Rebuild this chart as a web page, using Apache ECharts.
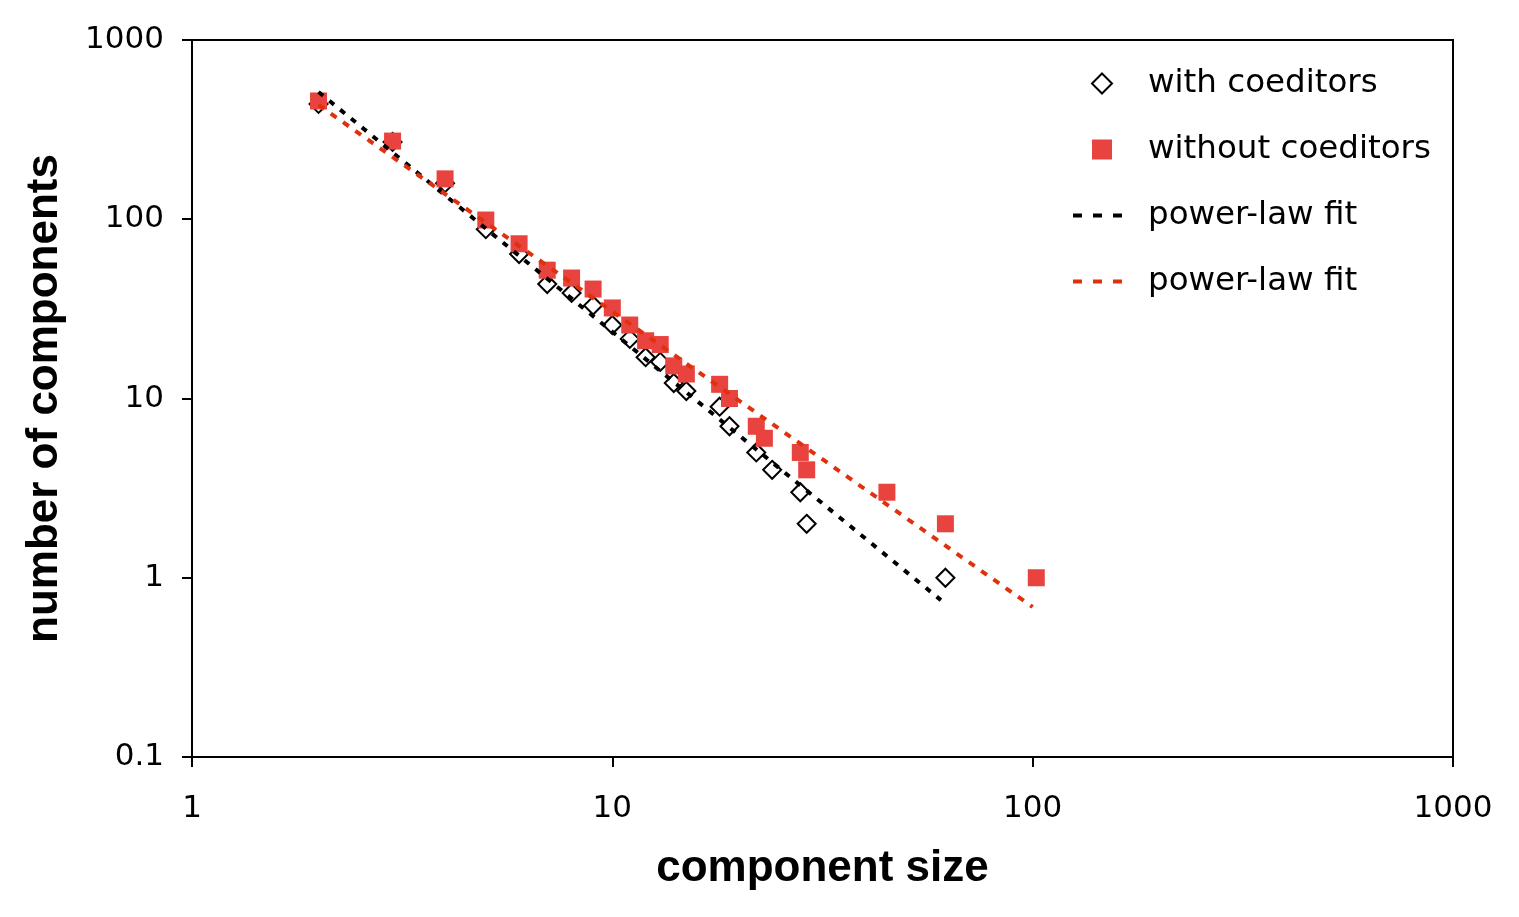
<!DOCTYPE html>
<html>
<head>
  <meta charset="utf-8">
  <title>component size distribution</title>
  <script src="https://cdn.jsdelivr.net/npm/echarts@6/dist/echarts.min.js"></script>
  <style>
    html, body { margin: 0; padding: 0; background: #fff; }
  </style>
</head>
<body>
  <div id="main" style="width: 1519px;height:917px;"></div>

  <script>
    // with coeditors (diamonds)
    const withSize  = [2, 3, 4, 5, 6, 7, 8, 9, 10, 11, 12, 13, 14, 15, 18, 19, 22, 24, 28, 29, 62];
    const withCount = [440, 270, 159, 88, 64, 43.5, 38.8, 33, 25.7, 21.5, 17, 16, 12.2, 11, 9, 7, 5, 4, 3, 2, 1];

    // without coeditors (squares)
    const withoutSize  = [2, 3, 4, 5, 6, 7, 8, 9, 10, 11, 12, 13, 14, 15, 18, 19, 22, 23, 28, 29, 45, 62, 102];
    const withoutCount = [457, 273, 168, 99, 73, 52, 47, 40.8, 32, 25.7, 21, 20, 15.2, 13.7, 12, 10, 7, 6, 5, 4, 3, 2, 1];

    // fitted lines, end points
    const fitBlackX = [2, 60.5];
    const fitBlackY = [513, 0.75];
    const fitRedX = [2, 100];
    const fitRedY = [434, 0.687];

    const xTicks = [1, 10, 100, 1000];
    const yTicks = [0.1, 1, 10, 100, 1000];

    const pairs = (xs, ys) => xs.map((x, i) => [x, ys[i]]);
    const tickFont = { fontFamily: 'DejaVu Sans', fontSize: 31, color: '#000' };
    const titleFont = { fontFamily: 'Liberation Sans', fontWeight: 'bold', fontSize: 44, color: '#000' };
    const fmt = v => String(+(+v).toPrecision(3));

    const RED_MARK = '#E8433F';
    const RED_LINE = '#E0300E';
    const legendDash = { width: 4, type: [9, 11] };

    const chart = echarts.init(document.getElementById('main'));
    const option = {
      animation: false,
      backgroundColor: '#fff',
      grid: {
        left: 192, top: 40, right: 66, bottom: 160,
        show: true, borderColor: '#000', borderWidth: 2
      },
      legend: {
        orient: 'vertical',
        left: 1066,
        top: 62,
        itemWidth: 58,
        itemHeight: 20,
        itemGap: 33,
        symbolKeepAspect: true,
        lineStyle: legendDash,
        textStyle: { fontFamily: 'DejaVu Sans', fontSize: 32.5, color: '#000', padding: [0, 0, 0, 12] },
        data: [
          { name: 'with coeditors', icon: 'path://M0,-1L1,0L0,1L-1,0Z',
            itemStyle: { color: '#fff', borderColor: '#000', borderWidth: 2 } },
          { name: 'without coeditors', icon: 'path://M0,0H1V1H0Z' },
          { name: 'power-law fit', lineStyle: legendDash },
          { name: 'power-law fit ', lineStyle: legendDash }
        ]
      },
      xAxis: {
        type: 'log',
        logBase: 10,
        min: xTicks[0],
        max: xTicks[xTicks.length - 1],
        name: 'component size',
        nameLocation: 'middle',
        nameGap: 90,
        nameTextStyle: titleFont,
        axisLine: { lineStyle: { color: '#000', width: 2 } },
        axisTick: { length: 10, lineStyle: { color: '#000', width: 2 } },
        axisLabel: Object.assign({ margin: 36, formatter: fmt }, tickFont),
        splitLine: { show: false }
      },
      yAxis: {
        type: 'log',
        logBase: 10,
        min: yTicks[0],
        max: yTicks[yTicks.length - 1],
        name: 'number of components',
        nameLocation: 'middle',
        nameGap: 125,
        nameTextStyle: titleFont,
        axisLine: { lineStyle: { color: '#000', width: 2 } },
        axisTick: { length: 10, lineStyle: { color: '#000', width: 2 } },
        axisLabel: Object.assign({ margin: 28, formatter: fmt }, tickFont),
        splitLine: { show: false }
      },
      series: [
        {
          name: 'with coeditors',
          type: 'scatter',
          symbol: 'diamond',
          symbolSize: 18,
          itemStyle: { color: '#fff', borderColor: '#000', borderWidth: 2, opacity: 1 },
          data: pairs(withSize, withCount)
        },
        {
          name: 'without coeditors',
          type: 'scatter',
          symbol: 'rect',
          symbolSize: 17,
          itemStyle: { color: RED_MARK, opacity: 1 },
          data: pairs(withoutSize, withoutCount)
        },
        {
          name: 'power-law fit',
          type: 'line',
          symbol: 'none',
          itemStyle: { color: 'rgba(0,0,0,0)', borderColor: 'rgba(0,0,0,0)' },
          lineStyle: { color: '#000', width: 4, type: [6, 8] },
          data: pairs(fitBlackX, fitBlackY)
        },
        {
          name: 'power-law fit ',
          type: 'line',
          symbol: 'none',
          itemStyle: { color: 'rgba(0,0,0,0)', borderColor: 'rgba(0,0,0,0)' },
          lineStyle: { color: RED_LINE, width: 4, type: [7, 8] },
          data: pairs(fitRedX, fitRedY)
        }
      ]
    };
    chart.setOption(option);
  </script>
</body>
</html>
